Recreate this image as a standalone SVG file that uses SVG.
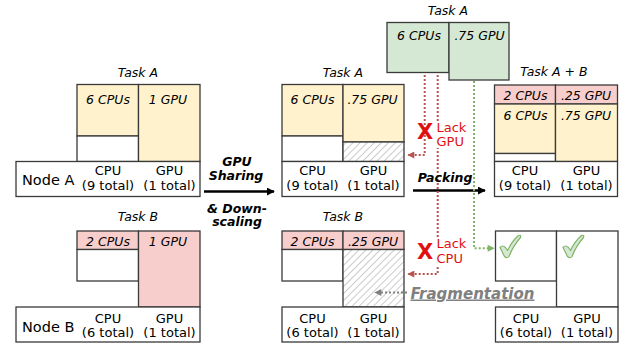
<svg xmlns="http://www.w3.org/2000/svg" width="621" height="343" viewBox="0 0 621 343">
<defs>
<style>
text{font-family:"DejaVu Sans","Liberation Sans",sans-serif;fill:#000}
.box{stroke:#3a3a3a;stroke-width:1.3}
.y{fill:#FFF2CC}
.p{fill:#F8CECC}
.g{fill:#D5E8D4}
.w{fill:#fff}
.h{fill:url(#hatch)}
.it{font-style:italic;font-size:12.5px;text-anchor:middle}
.lab{font-size:13px;text-anchor:middle}
.node{font-size:14.5px}
.bi{font-weight:bold;font-style:italic;font-size:12.5px;text-anchor:middle}
.red{fill:#E01010;font-size:13px}
.rx{fill:#E01010;font-weight:bold;font-size:21px;text-anchor:middle}
.rd{fill:none;stroke:#B85450;stroke-width:2;stroke-dasharray:2 2}
.gd{fill:none;stroke:#82B366;stroke-width:2;stroke-dasharray:2 2}
.gy{fill:none;stroke:#808080;stroke-width:2;stroke-dasharray:2 2}
.chk{fill:#D5E8D4;stroke:#82B366;stroke-width:1.2;stroke-linejoin:round}
</style>
<pattern id="hatch" patternUnits="userSpaceOnUse" width="5" height="5" patternTransform="rotate(45)">
<rect width="5" height="5" fill="#fff"/>
<line x1="0" y1="0" x2="0" y2="5" stroke="#999" stroke-width="1"/>
</pattern>
<marker id="ab" viewBox="0 0 10 10" refX="9" refY="5" markerWidth="8" markerHeight="8" orient="auto" markerUnits="userSpaceOnUse"><path d="M0,0 L10,5 L0,10 Z" fill="#000"/></marker>
<marker id="ar" viewBox="0 0 10 10" refX="9" refY="5" markerWidth="8" markerHeight="7" orient="auto" markerUnits="userSpaceOnUse"><path d="M0,0 L10,5 L0,10 Z" fill="#B85450"/></marker>
<marker id="ag" viewBox="0 0 10 10" refX="9" refY="5" markerWidth="8" markerHeight="7" orient="auto" markerUnits="userSpaceOnUse"><path d="M0,0 L10,5 L0,10 Z" fill="#82B366"/></marker>
<marker id="ay" viewBox="0 0 10 10" refX="9" refY="5" markerWidth="8" markerHeight="7" orient="auto" markerUnits="userSpaceOnUse"><path d="M0,0 L10,5 L0,10 Z" fill="#808080"/></marker>
</defs>

<!-- Left: Node A with Task A -->
<g id="taskA-left">
<text class="it" x="138" y="77">Task A</text>
<rect class="box y" x="77" y="84.5" width="61.5" height="51.5"/>
<rect class="box w" x="77" y="136" width="61.5" height="25.5"/>
<rect class="box y" x="138.5" y="84.5" width="61.5" height="77"/>
<text class="it" x="108" y="103.5">6 CPUs</text>
<text class="it" x="168" y="103.5">1 GPU</text>
</g>
<g id="nodeA-left">
<rect class="box w" x="16" y="161.5" width="184" height="35"/>
<text class="node" x="22" y="184.5">Node A</text>
<text class="lab" x="108" y="175">CPU</text>
<text class="lab" x="108" y="189.5">(9 total)</text>
<text class="lab" x="169.5" y="175">GPU</text>
<text class="lab" x="169.5" y="189.5">(1 total)</text>
</g>

<!-- Left: Node B with Task B -->
<g id="taskB-left">
<text class="it" x="138" y="221">Task B</text>
<rect class="box p" x="77" y="231" width="61.5" height="18.5"/>
<rect class="box w" x="77" y="249.5" width="61.5" height="31.5"/>
<rect class="box p" x="138.5" y="231" width="61.5" height="76"/>
<text class="it" x="108" y="245.5">2 CPUs</text>
<text class="it" x="168" y="245.5">1 GPU</text>
</g>
<g id="nodeB-left">
<rect class="box w" x="16" y="307" width="184" height="35"/>
<text class="node" x="22" y="332">Node B</text>
<text class="lab" x="108" y="323">CPU</text>
<text class="lab" x="108" y="337">(6 total)</text>
<text class="lab" x="169.5" y="323">GPU</text>
<text class="lab" x="169.5" y="337">(1 total)</text>
</g>

<!-- Middle: Node A -->
<g id="taskA-mid">
<text class="it" x="343" y="77">Task A</text>
<rect class="box y" x="282" y="84.5" width="61" height="51.5"/>
<rect class="box w" x="282" y="136" width="61" height="25.5"/>
<rect class="box y" x="343" y="84.5" width="61" height="57.5"/>
<rect class="box h" x="343" y="142" width="61" height="19.5"/>
<text class="it" x="312.5" y="103.5">6 CPUs</text>
<text class="it" x="372.5" y="103.5">.75 GPU</text>
</g>
<g id="nodeA-mid">
<rect class="box w" x="282" y="161.5" width="122" height="35"/>
<text class="lab" x="312.5" y="175">CPU</text>
<text class="lab" x="312.5" y="189.5">(9 total)</text>
<text class="lab" x="373.5" y="175">GPU</text>
<text class="lab" x="373.5" y="189.5">(1 total)</text>
</g>

<!-- Middle: Node B -->
<g id="taskB-mid">
<text class="it" x="343" y="221">Task B</text>
<rect class="box p" x="282" y="231" width="61" height="18.5"/>
<rect class="box w" x="282" y="249.5" width="61" height="31.5"/>
<rect class="box p" x="343" y="231" width="61" height="18.5"/>
<rect class="box h" x="343" y="249.5" width="61" height="57.5"/>
<text class="it" x="312.5" y="245.5">2 CPUs</text>
<text class="it" x="373" y="245.5">.25 GPU</text>
</g>
<g id="nodeB-mid">
<rect class="box w" x="282" y="307" width="122" height="35"/>
<text class="lab" x="312.5" y="323">CPU</text>
<text class="lab" x="312.5" y="337">(6 total)</text>
<text class="lab" x="373.5" y="323">GPU</text>
<text class="lab" x="373.5" y="337">(1 total)</text>
</g>

<!-- Top: Task A (green) -->
<g id="taskA-top">
<text class="it" x="448" y="15">Task A</text>
<rect class="box g" x="387" y="22.5" width="62" height="50"/>
<rect class="box g" x="449" y="22.5" width="60" height="57.5"/>
<text class="it" x="419" y="39.5">6 CPUs</text>
<text class="it" x="479.5" y="39.5">.75 GPU</text>
</g>

<!-- Right: Node A with Task A + B -->
<g id="taskAB-right">
<text class="it" x="554" y="76">Task A + B</text>
<rect class="box p" x="494.5" y="85" width="61" height="19"/>
<rect class="box p" x="555.5" y="85" width="62" height="19"/>
<rect class="box y" x="494.5" y="104" width="61" height="49.5"/>
<rect class="box w" x="494.5" y="153.5" width="61" height="8"/>
<rect class="box y" x="555.5" y="104" width="62" height="57.5"/>
<text class="it" x="525.5" y="99.5">2 CPUs</text>
<text class="it" x="586" y="99.5">.25 GPU</text>
<text class="it" x="525.5" y="120">6 CPUs</text>
<text class="it" x="586" y="120">.75 GPU</text>
</g>
<g id="nodeA-right">
<rect class="box w" x="494.5" y="161.5" width="123" height="35"/>
<text class="lab" x="525" y="175">CPU</text>
<text class="lab" x="525" y="189.5">(9 total)</text>
<text class="lab" x="586.5" y="175">GPU</text>
<text class="lab" x="586.5" y="189.5">(1 total)</text>
</g>

<!-- Right: Node B empty -->
<g id="nodeB-right-slots">
<rect class="box w" x="495.5" y="231" width="61" height="50"/>
<rect class="box w" x="556.5" y="231" width="61.5" height="76"/>
<path class="chk" d="M500,247.5 Q502.5,244.5 505.5,247.5 L507.5,250.5 Q512,241 518.5,235.5 Q521.5,234.5 520.5,237.5 Q513,246 509,256.5 Q507,259 504.5,256.5 Z"/>
<path class="chk" transform="translate(63,0)" d="M500,247.5 Q502.5,244.5 505.5,247.5 L507.5,250.5 Q512,241 518.5,235.5 Q521.5,234.5 520.5,237.5 Q513,246 509,256.5 Q507,259 504.5,256.5 Z"/>
</g>
<g id="nodeB-right">
<rect class="box w" x="495.5" y="307" width="122.5" height="35"/>
<text class="lab" x="526" y="323">CPU</text>
<text class="lab" x="526" y="337">(6 total)</text>
<text class="lab" x="587" y="323">GPU</text>
<text class="lab" x="587" y="337">(1 total)</text>
</g>

<!-- Connectors -->
<g id="connectors">
<line x1="204" y1="191.5" x2="274" y2="191.5" stroke="#000" stroke-width="2.4" marker-end="url(#ab)"/>
<line x1="413" y1="190.5" x2="485" y2="190.5" stroke="#000" stroke-width="2.4" marker-end="url(#ab)"/>
<path class="rd" d="M424.7,75 V155 H408" marker-end="url(#ar)"/>
<path class="rd" d="M437.7,75 V274 H408" marker-end="url(#ar)"/>
<path class="gd" d="M474,81 V248.3 H494" marker-end="url(#ag)"/>
<path class="gy" d="M407,292.5 H375" marker-end="url(#ay)"/>
</g>

<!-- Labels -->
<g id="labels">
<text class="bi" x="237" y="166">GPU</text>
<text class="bi" x="236" y="180">Sharing</text>
<text class="bi" x="237" y="212.5">&amp; Down-</text>
<text class="bi" x="237" y="226">scaling</text>
<text class="bi" x="445" y="181.5">Packing</text>
<rect x="434.5" y="121" width="30" height="27" fill="#fff"/>
<rect x="434.5" y="237" width="30" height="28" fill="#fff"/>
<text class="rx" x="425" y="139">X</text>
<text class="red" x="436.5" y="132">Lack</text>
<text class="red" x="436.5" y="146">GPU</text>
<text class="rx" x="425" y="259">X</text>
<text class="red" x="436.5" y="248">Lack</text>
<text class="red" x="436.5" y="262.5">CPU</text>
<text x="410.5" y="298.5" style="font-weight:bold;font-style:italic;font-size:15px;fill:#808080;text-decoration:underline">Fragmentation</text>
</g>
</svg>
